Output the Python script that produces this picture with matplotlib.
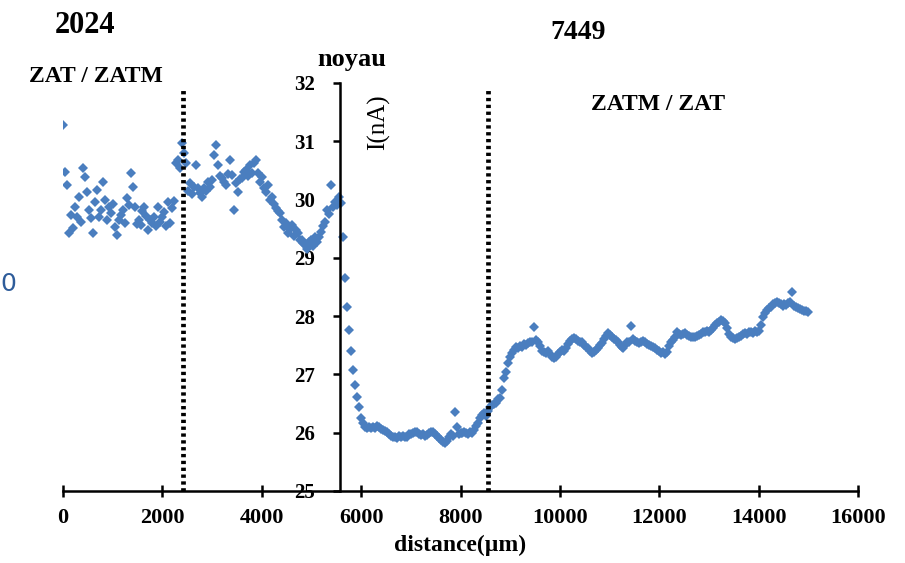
import matplotlib.pyplot as plt
import numpy as np

plt.rcParams['font.family'] = ['Liberation Serif', 'DejaVu Serif']
plt.rcParams['font.weight'] = 'bold'

# current readings (nA), one every 40 um along the profile
zat_left = [31.28, 30.47, 30.25, 29.43, 29.74, 29.52, 29.87, 29.70, 30.04, 29.62,
            30.54, 30.39, 30.13, 29.82, 29.68, 29.43, 29.96, 30.16, 29.70, 29.82,
            30.30, 29.99, 29.65, 29.87, 29.77, 29.92, 29.53, 29.39, 29.65, 29.74,
            29.82, 29.60, 30.03, 29.90, 30.46, 30.22, 29.87, 29.58, 29.65, 29.56,
            29.80, 29.87, 29.72, 29.48, 29.65, 29.60, 29.70, 29.55, 29.87, 29.62,
            29.70, 29.78, 29.55, 29.96, 29.60, 29.85, 29.98, 30.63, 30.68, 30.55,
            30.97]
zatm_left = [30.80, 30.62, 30.15, 30.28, 30.10, 30.22, 30.59, 30.20, 30.12, 30.05,
             30.20, 30.14, 30.30, 30.22, 30.34, 30.76, 30.94, 30.59, 30.40, 30.37,
             30.30, 30.25, 30.44, 30.68, 30.42, 29.82, 30.28, 30.13, 30.35, 30.37,
             30.48, 30.51, 30.40, 30.59, 30.45, 30.62, 30.68, 30.46, 30.30, 30.38,
             30.20, 30.13, 30.25, 29.99, 30.05, 29.92, 29.86, 29.80, 29.77, 29.65,
             29.53, 29.60, 29.43, 29.50, 29.56, 29.38, 29.48, 29.42, 29.30, 29.31,
             29.25, 29.22, 29.15, 29.28, 29.31, 29.20, 29.35, 29.28, 29.36, 29.45,
             29.55, 29.62, 29.82, 29.75, 30.25, 29.88, 29.95, 29.91, 30.05, 29.94]
drop = [29.36, 28.66, 28.16, 27.76, 27.41, 27.08, 26.82, 26.61, 26.44, 26.25,
        26.17, 26.10, 26.08, 26.10, 26.08]
noyau = [26.10, 26.08, 26.12, 26.10, 26.07, 26.05, 26.03, 26.01, 25.98, 25.95,
         25.93, 25.92, 25.91, 25.94, 25.93, 25.95, 25.92, 25.93, 25.97, 25.98,
         26.00, 26.02, 26.01, 25.98, 25.96, 25.97, 25.95, 25.96, 25.99, 26.01,
         26.01, 25.98, 25.95, 25.91, 25.87, 25.84, 25.82, 25.86, 25.93, 25.97,
         25.95, 26.36, 26.10, 25.98, 26.00, 25.99, 26.02, 26.00, 25.98, 26.01,
         26.00, 26.05, 26.12, 26.17, 26.25, 26.30]
zatm_right = [26.34, 26.29, 26.38, 26.44, 26.47, 26.49, 26.51, 26.58, 26.60, 26.73,
              26.94, 27.05, 27.20, 27.30, 27.37, 27.42, 27.47, 27.45, 27.49, 27.47,
              27.52, 27.51, 27.54, 27.55, 27.56, 27.81, 27.59, 27.56, 27.48, 27.40,
              27.38, 27.37, 27.40, 27.35, 27.30, 27.28, 27.30, 27.35, 27.38, 27.42,
              27.40, 27.45, 27.52, 27.58, 27.60, 27.63, 27.60, 27.58, 27.56, 27.55,
              27.50, 27.47, 27.45, 27.40, 27.37, 27.39, 27.42, 27.45, 27.50, 27.54,
              27.60, 27.66, 27.71, 27.68, 27.64, 27.60, 27.59, 27.55, 27.50, 27.47,
              27.45, 27.50, 27.55, 27.56, 27.83, 27.60, 27.58, 27.56, 27.54, 27.56,
              27.57, 27.55, 27.52, 27.50, 27.48, 27.47, 27.45, 27.42, 27.40, 27.37,
              27.39, 27.35, 27.38, 27.48, 27.55, 27.59, 27.65, 27.73, 27.70, 27.68,
              27.70, 27.71, 27.68, 27.66, 27.64, 27.65, 27.64, 27.66, 27.68, 27.70,
              27.72, 27.73, 27.74, 27.73, 27.76, 27.80, 27.85, 27.88, 27.90, 27.93,
              27.92, 27.88, 27.80, 27.70, 27.65, 27.63, 27.61, 27.63, 27.64, 27.66,
              27.69, 27.71, 27.70, 27.72, 27.73, 27.71, 27.74, 27.72, 27.75, 27.85,
              27.99, 28.05, 28.10, 28.14, 28.16, 28.20, 28.22, 28.24, 28.22, 28.20,
              28.18, 28.20, 28.19, 28.22, 28.25, 28.41, 28.18, 28.16, 28.14, 28.12,
              28.10, 28.09, 28.08, 28.07]

current = np.array(zat_left + zatm_left + drop + noyau + zatm_right)
step = 40
distance = np.arange(len(current)) * step

boundaries = [2420, 8560]   # zone limits (um)
y_axis_at = 5570

fig = plt.figure(figsize=(9.05, 5.63), dpi=100)
ax = fig.add_axes([0.0696, 0.1279, 0.8785, 0.7247])

ax.plot(distance, current, linestyle='none', marker='D', markersize=5.4,
        color='#4A7EBF', markeredgewidth=0)

for b in boundaries:
    ax.plot([b, b], [25, 31.9], color='black', lw=3.4,
            linestyle=(0, (0.7, 0.75)), solid_capstyle='butt')

ax.set_xlim(0, 16000)
ax.set_ylim(25, 32)
ax.set_xticks(np.arange(0, 16001, 2000))
ax.set_yticks(np.arange(25, 33, 1))

for s in ['top', 'right']:
    ax.spines[s].set_visible(False)
ax.spines['left'].set_position(('data', y_axis_at))
ax.spines['left'].set_linewidth(1.8)
ax.spines['bottom'].set_linewidth(1.8)
ax.tick_params(axis='x', direction='inout', length=9, width=1.8, labelsize=16, pad=8)
ax.tick_params(axis='y', direction='out', length=5, width=1.8, labelsize=15, pad=13)
for lab in ax.get_xticklabels() + ax.get_yticklabels():
    lab.set_fontweight('bold')

ax.set_xlabel('distance(µm)', fontsize=17, fontweight='bold', labelpad=5)

fig.text(0.094, 0.954, '2024', fontsize=22, fontweight='bold', ha='center', va='center')
fig.text(0.639, 0.943, '7449', fontsize=20, fontweight='bold', ha='center', va='center')
fig.text(0.389, 0.895, 'noyau', fontsize=19, fontweight='bold', ha='center', va='center')
fig.text(0.106, 0.865, 'ZAT / ZATM', fontsize=17, fontweight='bold', ha='center', va='center')
fig.text(0.727, 0.815, 'ZATM / ZAT', fontsize=17, fontweight='bold', ha='center', va='center')
fig.text(0.418, 0.783, 'I(nA)', fontsize=18, fontweight='normal', rotation=90,
         ha='center', va='center')
fig.text(0.0, 0.4956, '0', fontsize=18, color='#2E5C9A', fontweight='normal',
         family='DejaVu Sans', ha='left', va='center')

fig.savefig('out.png', dpi=100)
